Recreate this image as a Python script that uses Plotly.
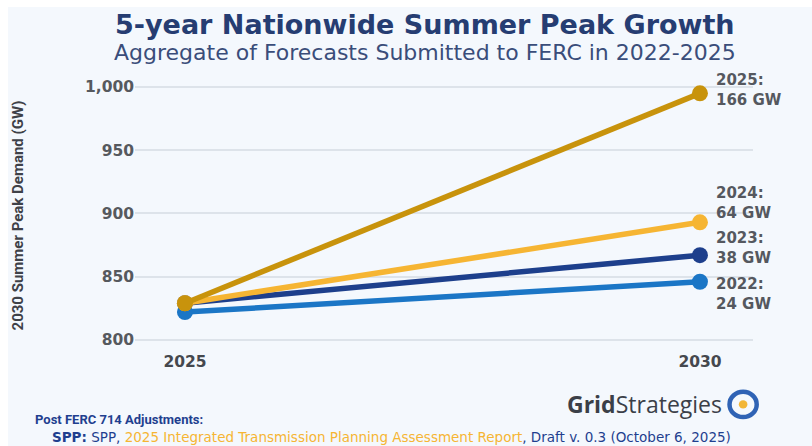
import plotly.graph_objects as go

# Forecast vintages and their aggregate summer peak demand (GW)
vintages = ["2022", "2023", "2024", "2025"]
years = [2025, 2030]
start_gw = [822, 829, 829, 829]
end_gw = [846, 867, 893, 995]
colors = ["#1b76c6", "#1d3f8c", "#f6b533", "#c8930c"]
label_yshift = [-12, 7, 19, 3]

y_ticks = [800, 850, 900, 950, 1000]
x_ticks = [2025, 2030]

WIDE = "DejaVu Sans"

fig = go.Figure()

for name, s, e, c in zip(vintages, start_gw, end_gw, colors):
    fig.add_trace(go.Scatter(
        x=years, y=[s, e], mode="lines+markers", name=name,
        line=dict(color=c, width=5.5),
        marker=dict(color=c, size=16),
        showlegend=False,
    ))

# Growth labels at the 2030 end of each line
for name, s, e, dy in zip(vintages, start_gw, end_gw, label_yshift):
    fig.add_annotation(
        x=years[1], y=e, xref="x", yref="y",
        text=f"<b>{name}:<br>{e - s} GW</b>",
        showarrow=False, xanchor="left", align="left",
        xshift=14, yshift=dy,
        font=dict(family=WIDE, size=15, color="#55585f"),
    )

bg = "#f4f8fd"
shapes = [
    # white frame strips along the top and left edges
    dict(type="rect", xref="paper", yref="paper", x0=-0.25, x1=1.2, y0=1.247, y1=1.3,
         fillcolor="white", line=dict(width=0), layer="above"),
    dict(type="rect", xref="paper", yref="paper", x0=-0.25, x1=-0.2055, y0=-0.7, y1=1.3,
         fillcolor="white", line=dict(width=0), layer="above"),
    # logo mark
    dict(type="circle", xref="paper", yref="paper", x0=0.962, x1=1.006, y0=-0.244, y1=-0.152,
         fillcolor="rgba(0,0,0,0)", line=dict(color="#2f63b5", width=4.5)),
    dict(type="circle", xref="paper", yref="paper", x0=0.977, x1=0.991, y0=-0.213, y1=-0.183,
         fillcolor="#f2b637", line=dict(width=0)),
]

texts = [
    dict(text="<b>5-year Nationwide Summer Peak Growth</b>", x=0.469, y=1.183,
         font=dict(family=WIDE, size=27, color="#263d72")),
    dict(text="Aggregate of Forecasts Submitted to FERC in 2022-2025", x=0.469, y=1.083,
         font=dict(family=WIDE, size=22, color="#3a4d7a")),
]
for t in texts:
    fig.add_annotation(xref="paper", yref="paper", showarrow=False,
                       xanchor="center", yanchor="middle", **t)

# y-axis title
fig.add_annotation(
    xref="paper", yref="paper", x=-0.189, y=0.49, xanchor="center", yanchor="middle",
    showarrow=False, textangle=-90,
    text="<b>2030 Summer Peak Demand (GW)</b>",
    font=dict(family="Roboto", size=15, color="#3e4148"),
)

fig.add_annotation(
    xref="paper", yref="paper", x=0.953, y=-0.198, xanchor="right", yanchor="middle",
    showarrow=False,
    text="<b>Grid</b>Strategies",
    font=dict(family="Open Sans", size=23, color="#3b3f48"),
)
fig.add_annotation(
    xref="paper", yref="paper", x=-0.165, y=-0.251, xanchor="left", yanchor="middle",
    showarrow=False,
    text="<b>Post FERC 714 Adjustments:</b>",
    font=dict(family="Roboto", size=13, color="#1f3f8f"),
)
fig.add_annotation(
    xref="paper", yref="paper", x=-0.137, y=-0.316, xanchor="left", yanchor="middle",
    showarrow=False,
    text=("<b>SPP:</b> SPP, <span style='color:#f6b533'>2025 Integrated Transmission "
          "Planning Assessment Report</span>, Draft v. 0.3 (October 6, 2025)"),
    font=dict(family=WIDE, size=13.5, color="#1f3f8f"),
)

fig.update_layout(
    width=812, height=446,
    margin=dict(l=135, r=59, t=75, b=96),
    paper_bgcolor=bg, plot_bgcolor=bg,
    shapes=shapes,
    font=dict(family=WIDE),
    xaxis=dict(
        range=[2024.515, 2030.515], tickmode="array", tickvals=x_ticks,
        ticktext=[f"<b>{v}</b>" for v in x_ticks],
        showgrid=False, zeroline=False, showline=False,
        tickfont=dict(family=WIDE, size=15.5, color="#45484e"), ticklen=0,
    ),
    yaxis=dict(
        range=[792, 1009.5], tickmode="array", tickvals=y_ticks,
        ticktext=[f"<b>{v:,}</b>" for v in y_ticks],
        showgrid=True, gridcolor="#dde3ea", gridwidth=1.5, zeroline=False,
        tickfont=dict(family=WIDE, size=15.5, color="#56595e"), ticklen=0, ticks="",
    ),
)

fig.write_html("out.html")
